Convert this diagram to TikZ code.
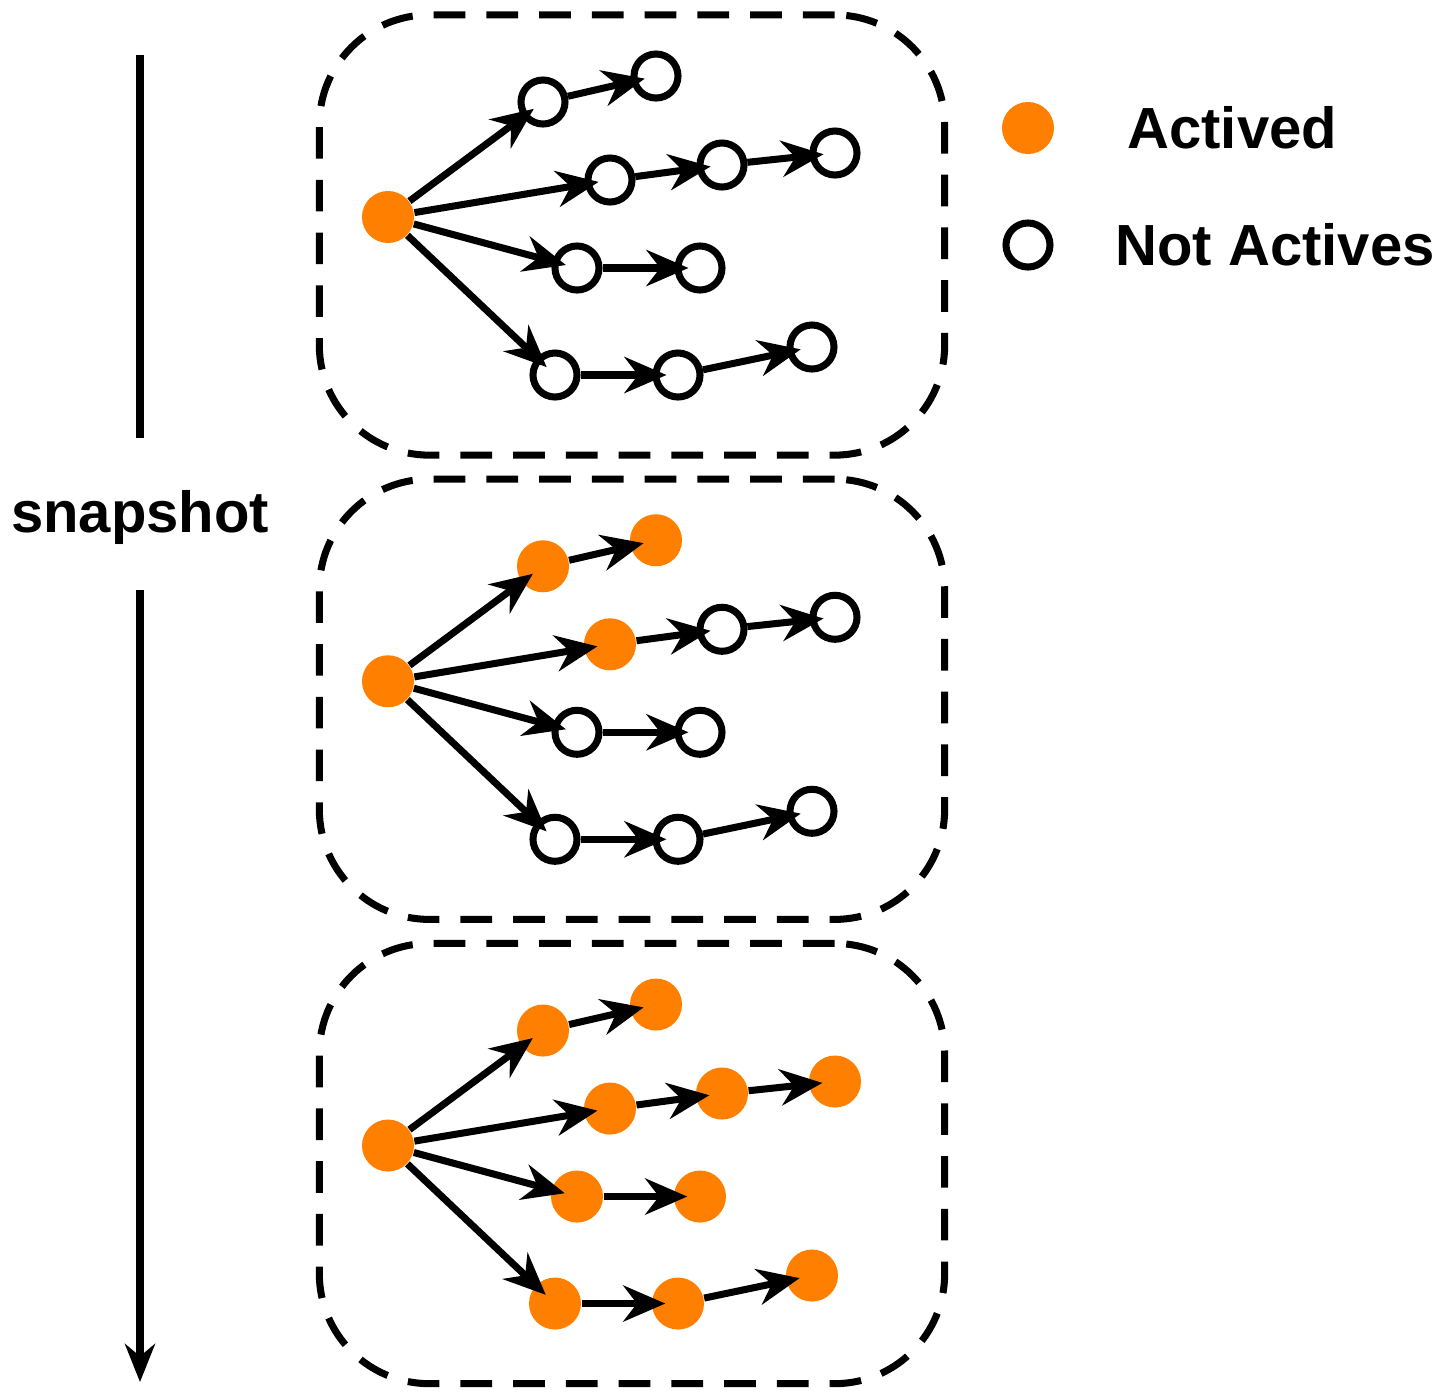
\documentclass[tikz,border=0pt]{standalone}
\usepackage{fontspec}
\setmainfont{Liberation Sans}
\usetikzlibrary{arrows.meta}
\definecolor{act}{RGB}{255,128,0}
\begin{document}
\begin{tikzpicture}[x=0.01cm,y=-0.01cm,
    on/.style={circle, fill=act, minimum size=0.52cm, inner sep=0pt},
    off/.style={circle, draw, line width=2pt, fill=white, minimum size=0.44cm, inner sep=0pt},
    edge/.style={-{Stealth[length=0.42cm,width=0.36cm]}, line width=2pt, shorten >=-4pt},
    panel/.style={draw, line width=2pt, dash pattern=on 9pt off 6pt, rounded corners=1.1cm},
    lbl/.style={font=\fontsize{16.5}{20}\selectfont\bfseries}
]
\useasboundingbox (0,0) rectangle (1435,1399);

% Panels
\foreach \k/\sa/\sb in {0/off/off, 1/on/off, 2/on/on}{
  \begin{scope}[yshift=-\k*4.64cm]
    \node[panel, minimum width=6.25cm, minimum height=4.4cm] (box\k) at (632,235) {};
    \node[on] (root\k) at (388,217) {};
    \node[\sa] (a1\k) at (543,102) {};
    \node[\sa] (a2\k) at (656,76) {};
    \node[\sa] (b1\k) at (610,180) {};
    \node[\sb] (b2\k) at (722,165) {};
    \node[\sb] (b3\k) at (835,153) {};
    \node[\sb] (c1\k) at (577,268) {};
    \node[\sb] (c2\k) at (700,268) {};
    \node[\sb] (d1\k) at (555,375) {};
    \node[\sb] (d2\k) at (678,375) {};
    \node[\sb] (d3\k) at (812,347) {};
    \draw[edge] (root\k) -- (a1\k);
    \draw[edge] (root\k) -- (b1\k);
    \draw[edge] (root\k) -- (c1\k);
    \draw[edge] (root\k) -- (d1\k);
    \draw[edge] (a1\k) -- (a2\k);
    \draw[edge] (b1\k) -- (b2\k);
    \draw[edge] (b2\k) -- (b3\k);
    \draw[edge] (c1\k) -- (c2\k);
    \draw[edge] (d1\k) -- (d2\k);
    \draw[edge] (d2\k) -- (d3\k);
  \end{scope}
}

% Legend
\node[on] (key-on) at (1028,128) {};
\node[lbl, anchor=west] (txt-on) at (1115,128) {Actived};
\node[off] (key-off) at (1028,245) {};
\node[lbl, anchor=west] (txt-off) at (1103,245) {Not Actives};

% Time axis
\node[lbl] (snap) at (140,517) {snapshot};
\coordinate (top) at (140,55);
\coordinate (bot) at (140,1382);
\draw[line width=2pt] (top) -- (snap.north |- 0,438);
\draw[line width=2pt, -{Stealth[length=0.38cm,width=0.3cm]}] (snap.south |- 0,590) -- (bot);
\end{tikzpicture}
\end{document}
